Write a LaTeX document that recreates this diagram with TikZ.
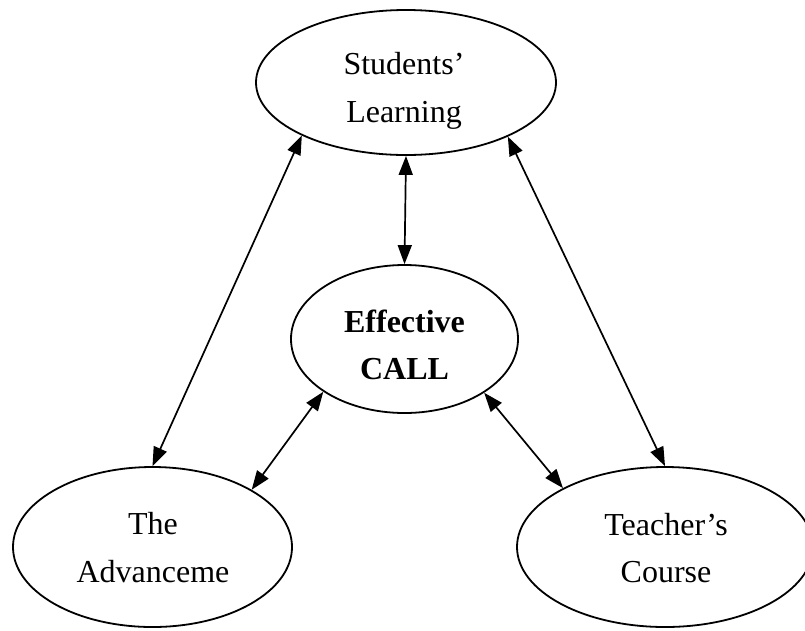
\documentclass[tikz,border=0pt]{standalone}
\usepackage{fontspec}
\setmainfont{Liberation Serif}
\usetikzlibrary{shapes.geometric,arrows.meta}
\begin{document}
\begin{tikzpicture}[x=1pt,y=1pt,
  bubble/.style={ellipse,draw,line width=1.8pt,inner sep=0pt},
  words/.style={inner sep=0pt,align=center,font=\fontsize{32}{47.5}\selectfont},
  link/.style={line width=1.7pt,
               {Triangle[length=19pt,width=14pt]}-{Triangle[length=19pt,width=14pt]}}]
\useasboundingbox (0,0) rectangle (805,-630);

% the four ellipses
\node[bubble,minimum width=300pt,minimum height=145pt] (learn) at (406,-82.5) {};
\node[bubble,minimum width=227pt,minimum height=148pt] (call) at (404.5,-339) {};
\node[bubble,minimum width=279pt,minimum height=160pt] (adv) at (152.5,-547) {};
\node[bubble,minimum width=296pt,minimum height=160pt] (course) at (665,-547) {};

% their labels
\node[words] (learnText) at (404,-91) {Students’\\Learning};
\node[words] (callText) at (404.5,-345) {\bfseries Effective\\\bfseries CALL};
\node[words] (advText) at (153,-547.5) {The\\Advanceme};
\node[words] (courseText) at (666,-548) {Teacher’s\\Course};

% two-way links
\draw[link] (learn.270) -- (call.90);
\draw[link] (learn.207.2) -- (adv.90);
\draw[link] (learn.332.8) -- (course.90);
\draw[link] (call.213) -- (adv.30.4);
\draw[link] (call.326.6) -- (course.150.7);
\end{tikzpicture}
\end{document}
